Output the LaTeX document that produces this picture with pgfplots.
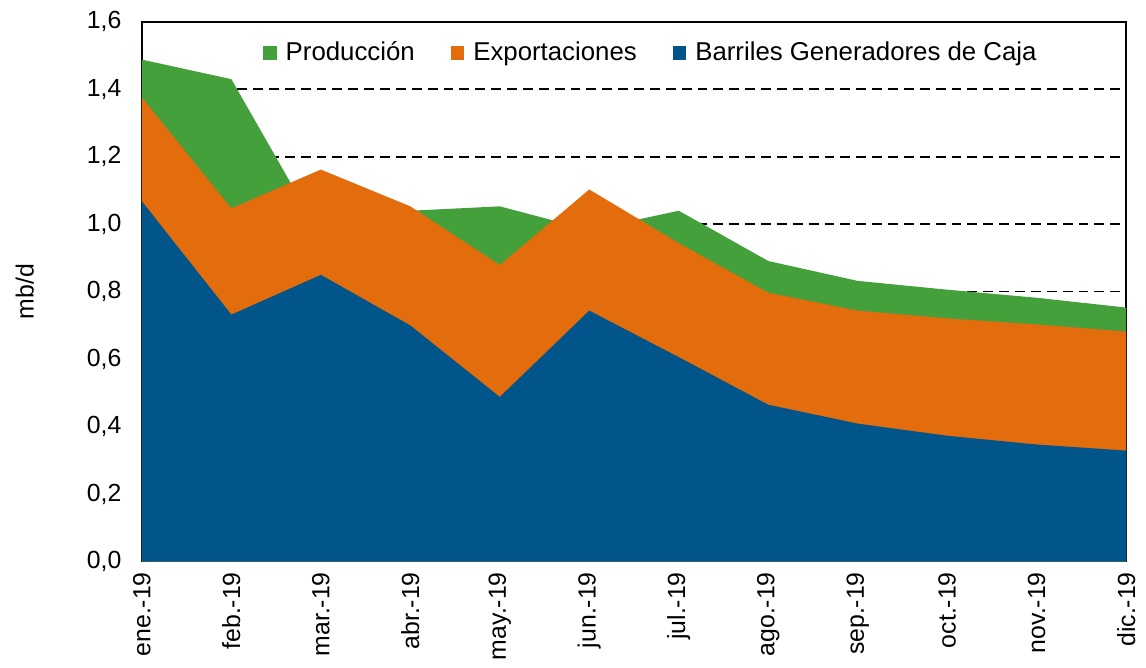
\documentclass[border=0pt]{standalone}
\usepackage{fontspec}
\setmainfont{Liberation Sans}
\usepackage{pgfplots}
\pgfplotsset{compat=1.18}

\definecolor{prodgreen}{RGB}{67,160,58}
\definecolor{expoorange}{RGB}{227,108,12}
\definecolor{cajablue}{RGB}{2,85,138}

\begin{document}
\fontsize{12.5}{15}\selectfont
\begin{tikzpicture}
\begin{axis}[
    at={(0,0)}, anchor=south west,
    scale only axis, width=496pt, height=272pt,
    xmin=0, xmax=11, ymin=0, ymax=1.6,
    xtick={0,...,11},
    xticklabels={ene.-19,feb.-19,mar.-19,abr.-19,may.-19,jun.-19,jul.-19,ago.-19,sep.-19,oct.-19,nov.-19,dic.-19},
    xticklabel style={rotate=90, anchor=east, xshift=-1pt},
    ytick={0,0.2,...,1.6},
    /pgf/number format/fixed, /pgf/number format/fixed zerofill,
    /pgf/number format/precision=1, /pgf/number format/use comma,
    /pgf/number format/assume math mode=true,
    yticklabel style={xshift=-6pt},
    major tick length=0pt,
    ymajorgrids, grid style={black, dash pattern=on 5pt off 3pt, line width=0.8pt},
    axis line style={black, line width=0.8pt},
    every axis y label/.style={at={(axis description cs:-0.119,0.5)}, rotate=90, anchor=center},
    ylabel={mb/d},
    legend style={at={(axis description cs:0.518,0.943)}, anchor=center, draw=none, fill=none,
        legend columns=-1, font=\fontsize{13}{15}\selectfont,
        /tikz/every even column/.append style={column sep=16pt}},
    legend image code/.code={\fill[#1] (0pt,-3.5pt) rectangle (7pt,3.5pt); \path (9.5pt,0pt);},
]
\addplot[fill=prodgreen, draw=none] coordinates {
    (0,1.488) (1,1.430) (2,0.966) (3,1.040) (4,1.053) (5,0.983)
    (6,1.040) (7,0.891) (8,0.832) (9,0.806) (10,0.782) (11,0.753)} \closedcycle;
\addplot[fill=expoorange, draw=none] coordinates {
    (0,1.376) (1,1.047) (2,1.162) (3,1.053) (4,0.879) (5,1.103)
    (6,0.944) (7,0.797) (8,0.744) (9,0.721) (10,0.703) (11,0.682)} \closedcycle;
\addplot[fill=cajablue, draw=none] coordinates {
    (0,1.068) (1,0.732) (2,0.850) (3,0.700) (4,0.488) (5,0.744)
    (6,0.606) (7,0.465) (8,0.409) (9,0.373) (10,0.347) (11,0.329)} \closedcycle;
\legend{Producción, Exportaciones, Barriles Generadores de Caja}
\end{axis}
\pgfresetboundingbox
\path (-71.5pt,-53.5pt) rectangle (506pt,283pt);
\end{tikzpicture}
\end{document}
